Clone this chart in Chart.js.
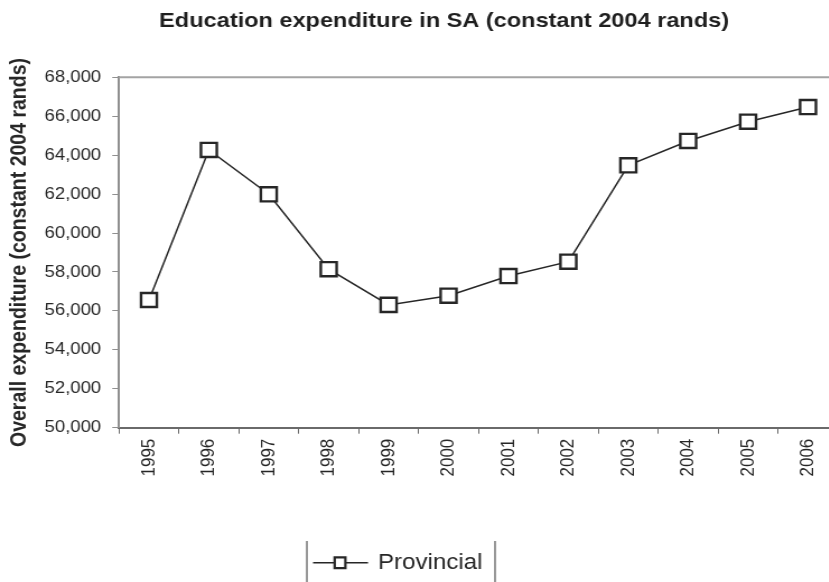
<!DOCTYPE html>
<html>
<head>
<meta charset="utf-8">
<script src="https://cdn.jsdelivr.net/npm/chart.js@4/dist/chart.umd.min.js"></script>
<style>
  html, body { margin: 0; padding: 0; background: #ffffff; }
  #frame { width: 829px; height: 582px; overflow: hidden; position: relative; }
  /* the chart is laid out narrower and widened horizontally */
  #stage { width: 793px; height: 582px; transform: scaleX(1.12); transform-origin: 0 0; }
</style>
</head>
<body>
<div id="frame"><div id="stage"><canvas id="chart"></canvas></div></div>
<script>
// Years on the category axis
const years = ['1995', '1996', '1997', '1998', '1999', '2000', '2001', '2002', '2003', '2004', '2005', '2006'];
// Provincial education expenditure, constant 2004 rands
const provincial = [56560, 64270, 61990, 58140, 56310, 56780, 57790, 58530, 63480, 64730, 65720, 66470];
// Value axis range and step
const yMin = 50000;
const yMax = 68000;
const yStep = 2000;

const chartTitle = 'Education expenditure in SA (constant 2004 rands)';
const yTitle = 'Overall expenditure (constant 2004 rands)';
const seriesName = 'Provincial';

const ink = '#262626';
const sans = '"Liberation Sans", Arial, sans-serif';

// Title, top frame edge and the boxed legend
const decorations = {
  id: 'decorations',
  afterDraw(chart) {
    const ctx = chart.ctx;
    const area = chart.chartArea;
    ctx.save();
    // top edge of the plot frame
    ctx.strokeStyle = '#a3a3a3';
    ctx.lineWidth = 2;
    ctx.beginPath();
    ctx.moveTo(area.left, area.top);
    ctx.lineTo(area.right, area.top);
    ctx.stroke();

    // chart title
    ctx.fillStyle = '#1e1e1e';
    ctx.font = 'bold 21px ' + sans;
    ctx.textAlign = 'center';
    ctx.textBaseline = 'alphabetic';
    ctx.fillText(chartTitle, chart.width / 2, 27);

    // legend box sides
    ctx.strokeStyle = '#555555';
    ctx.lineWidth = 1.2;
    ctx.beginPath();
    ctx.moveTo(274, 541);
    ctx.lineTo(274, 590);
    ctx.moveTo(442, 541);
    ctx.lineTo(442, 590);
    ctx.stroke();

    // legend sample line with marker
    const ds = chart.data.datasets[0];
    const ly = 562.7;
    ctx.strokeStyle = ds.borderColor;
    ctx.lineWidth = 1.6;
    ctx.beginPath();
    ctx.moveTo(279.5, ly);
    ctx.lineTo(328.6, ly);
    ctx.stroke();
    ctx.fillStyle = '#ffffff';
    ctx.lineWidth = 2.2;
    ctx.beginPath();
    ctx.rect(303.6 - 4.8, ly - 5.4, 9.6, 10.8);
    ctx.fill();
    ctx.stroke();

    // legend label
    ctx.fillStyle = ink;
    ctx.font = '21.5px ' + sans;
    ctx.textAlign = 'left';
    ctx.fillText(ds.label, 337.5, 569);
    ctx.restore();
  }
};

new Chart(document.getElementById('chart'), {
  type: 'line',
  data: {
    labels: years,
    datasets: [{
      label: seriesName,
      data: provincial,
      borderColor: ink,
      borderWidth: 1.5,
      tension: 0,
      pointStyle: 'rect',
      pointRadius: 10,
      pointBorderWidth: 2.4,
      pointBackgroundColor: '#ffffff',
      pointBorderColor: ink
    }]
  },
  options: {
    responsive: true,
    maintainAspectRatio: false,
    animation: false,
    devicePixelRatio: 1,
    locale: 'en-US',
    layout: { padding: { top: 77.3, left: 0, right: 44.8, bottom: 0 } },
    plugins: {
      legend: { display: false },
      title: { display: false },
      tooltip: { enabled: false }
    },
    scales: {
      x: {
        type: 'category',
        offset: true,
        afterFit(scale) { scale.height = 154.3; },
        border: { display: true, color: '#6a6a6a', width: 2 },
        grid: { display: true, offset: true, drawOnChartArea: false, tickLength: 6, color: '#6a6a6a', lineWidth: 1 },
        ticks: {
          minRotation: 90,
          maxRotation: 90,
          padding: 5,
          color: ink,
          font: { family: sans, size: 17 }
        }
      },
      y: {
        min: yMin,
        max: yMax,
        afterFit(scale) { scale.width = 106.25; },
        border: { display: true, color: '#8f8f8f', width: 2 },
        grid: { display: true, drawOnChartArea: false, tickLength: 6, color: '#8f8f8f', lineWidth: 1 },
        ticks: {
          stepSize: yStep,
          padding: 10,
          color: ink,
          font: { family: sans, size: 16.5 },
          callback: (v) => v.toLocaleString('en-US')
        },
        title: {
          display: true,
          text: yTitle,
          color: ink,
          padding: { top: 6.3, bottom: 0 },
          font: { family: sans, size: 19.5, weight: 'bold', lineHeight: 1.2 }
        }
      }
    }
  },
  plugins: [decorations]
});
</script>
</body>
</html>
